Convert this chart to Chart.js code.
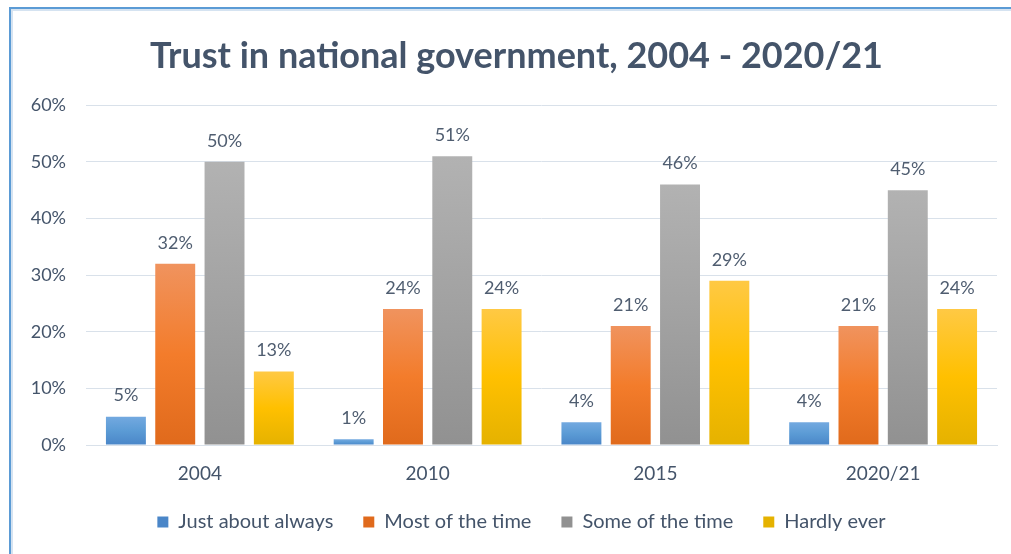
<!DOCTYPE html>
<html>
<head>
<meta charset="utf-8">
<script src="https://cdn.jsdelivr.net/npm/chart.js@4.4.1/dist/chart.umd.min.js"></script>
<style>
  html, body { margin: 0; padding: 0; background: #fff; }
  #wrap { position: relative; width: 1011px; height: 554px; overflow: hidden; }
  #frame { position: absolute; left: 9px; top: 7px; right: -20px; bottom: -20px;
    border-left: 2px solid #5b9bd5; border-top: 2px solid #5b9bd5;
    box-shadow: inset 2px 2px 0 #d5e3f1; pointer-events: none; }
  canvas { position: absolute; left: 0; top: 0; }
</style>
</head>
<body>
<div id="wrap">
  <canvas id="trustChart" width="1011" height="554"></canvas>
  <div id="frame"></div>
</div>
<script>
// survey years and answer shares (%)
const years = ['2004', '2010', '2015', '2020/21'];
const justAboutAlways = [5, 1, 4, 4];
const mostOfTheTime = [32, 24, 21, 21];
const someOfTheTime = [50, 51, 46, 45];
const hardlyEver = [13, 24, 29, 24];
const yTicks = [0, 10, 20, 30, 40, 50, 60];

const textColor = '#44546a';
const font = 'Lato, "Open Sans", sans-serif';

// light / mid / dark shades for each series, top to bottom of a bar
const shades = {
  blue: ['#73a9e0', '#5b9bd5', '#4a86c8'],
  orange: ['#f0935e', '#f37c2b', '#e06a1c'],
  gray: ['#b2b2b2', '#a2a2a2', '#919191'],
  yellow: ['#ffc944', '#ffc000', '#e5b200']
};

function barGradient(stops) {
  return (ctx) => {
    const chart = ctx.chart;
    const y = chart.scales && chart.scales.y;
    if (!chart.chartArea || !y || ctx.raw === undefined) return stops[1];
    const top = y.getPixelForValue(ctx.raw);
    const bottom = y.getPixelForValue(0);
    if (!isFinite(top) || !isFinite(bottom) || top === bottom) return stops[1];
    const g = chart.ctx.createLinearGradient(0, top, 0, bottom);
    g.addColorStop(0, stops[0]);
    g.addColorStop(0.5, stops[1]);
    g.addColorStop(1, stops[2]);
    return g;
  };
}

// percent labels above each bar
const valueLabels = {
  id: 'valueLabels',
  afterDatasetsDraw(chart) {
    const c = chart.ctx;
    c.save();
    c.font = '18px ' + font;
    c.fillStyle = '#4f5d70';
    c.textAlign = 'center';
    c.textBaseline = 'bottom';
    chart.data.datasets.forEach((ds, i) => {
      chart.getDatasetMeta(i).data.forEach((bar, j) => {
        c.fillText(ds.data[j] + '%', bar.x, bar.y - 12);
      });
    });
    c.restore();
  }
};

// nudge title and legend to the right so they sit over the plot
const centerBlocks = {
  id: 'centerBlocks',
  afterLayout(chart) {
    const t = chart.titleBlock;
    if (t) { t.left += 12; t.right += 12; }
    const l = chart.legend;
    if (l) { l.left += 17; l.right += 17; }
  }
};

const mk = (label, data, stops) => ({
  label, data,
  backgroundColor: barGradient(stops),
  borderWidth: 0,
  categoryPercentage: 0.866,
  barPercentage: 0.81
});

new Chart(document.getElementById('trustChart'), {
  type: 'bar',
  data: {
    labels: years,
    datasets: [
      mk('Just about always', justAboutAlways, shades.blue),
      mk('Most of the time', mostOfTheTime, shades.orange),
      mk('Some of the time', someOfTheTime, shades.gray),
      mk('Hardly ever', hardlyEver, shades.yellow)
    ]
  },
  options: {
    responsive: false,
    animation: false,
    layout: { padding: { left: 12, right: 14, top: 35, bottom: 12 } },
    plugins: {
      title: {
        display: true,
        text: 'Trust in national government, 2004 - 2020/21',
        color: textColor,
        font: { family: font, size: 36, weight: 'bold' },
        padding: { top: 0, bottom: 27 }
      },
      legend: {
        position: 'bottom',
        labels: {
          color: textColor,
          font: { family: font, size: 20 },
          boxWidth: 11,
          boxHeight: 11,
          padding: 30
        }
      },
      tooltip: { enabled: false }
    },
    scales: {
      x: {
        afterFit: (s) => { s.height = 37; },
        grid: { display: false, drawTicks: false },
        border: { display: true, color: '#d9e1ea', width: 1 },
        ticks: { color: textColor, font: { family: font, size: 19 }, padding: 17 }
      },
      y: {
        min: 0, max: 60,
        afterFit: (s) => { s.width = 74; },
        afterBuildTicks: (s) => { s.ticks = yTicks.map(v => ({ value: v })); },
        grid: { color: '#d9e1ea', drawTicks: false },
        border: { display: false },
        ticks: {
          color: textColor,
          font: { family: font, size: 18 },
          padding: 20,
          callback: (v) => v + '%'
        }
      }
    }
  },
  plugins: [valueLabels, centerBlocks]
});
</script>
</body>
</html>
